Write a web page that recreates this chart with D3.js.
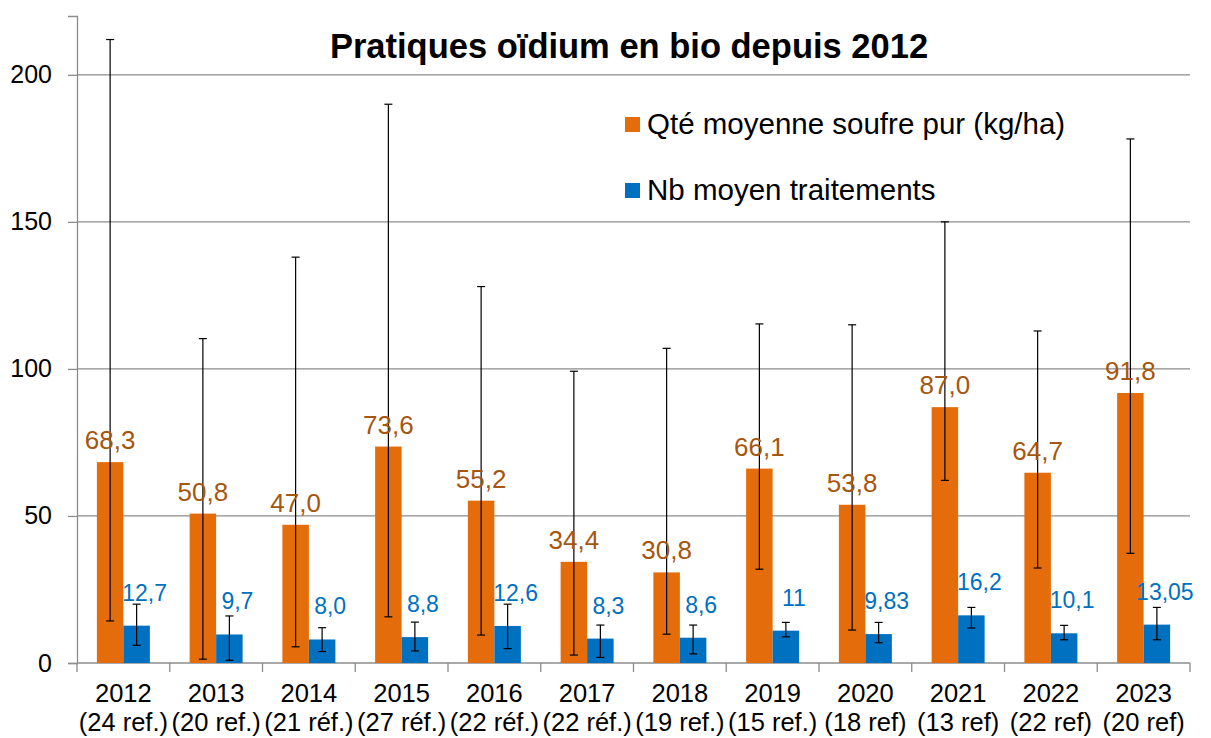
<!DOCTYPE html>
<html>
<head>
<meta charset="utf-8">
<script src="https://cdn.jsdelivr.net/npm/d3@7"></script>
<style>
  body { margin: 0; background: #fff; }
  svg text { font-family: "Liberation Sans", Arial, sans-serif; }
</style>
</head>
<body>
<div id="chart"></div>
<script>
// Data
const years = ['2012', '2013', '2014', '2015', '2016', '2017', '2018', '2019', '2020', '2021', '2022', '2023'];
const refs = ['(24 ref.)', '(20 ref.)', '(21 réf.)', '(27 réf.)', '(22 réf.)', '(22 réf.)', '(19 ref.)', '(15 ref.)', '(18 ref)', '(13 ref)', '(22 ref)', '(20 ref)'];

const soufre = [68.3, 50.8, 47.0, 73.6, 55.2, 34.4, 30.8, 66.1, 53.8, 87.0, 64.7, 91.8];
const soufreLabels = ['68,3', '50,8', '47,0', '73,6', '55,2', '34,4', '30,8', '66,1', '53,8', '87,0', '64,7', '91,8'];
const soufreLow = [14.3, 1.3, 5.5, 15.7, 9.5, 2.7, 9.8, 31.9, 11.2, 62.1, 32.3, 37.3];
const soufreHigh = [212, 110.3, 138, 190, 128, 99.2, 107, 115.3, 115, 150, 112.9, 178.2];

const traitements = [12.7, 9.7, 8.0, 8.8, 12.6, 8.3, 8.6, 11, 9.83, 16.2, 10.1, 13.05];
const traitLabels = ['12,7', '9,7', '8,0', '8,8', '12,6', '8,3', '8,6', '11', '9,83', '16,2', '10,1', '13,05'];
const traitLow = [6.0, 0.9, 3.9, 4.1, 4.9, 1.9, 3.1, 8.9, 6.9, 11.9, 7.9, 7.9];
const traitHigh = [20, 16, 12, 13.9, 20, 12.9, 12.9, 13.8, 13.8, 18.9, 12.8, 18.9];

const yTicks = [0, 50, 100, 150, 200];
const seriesNames = ['Qté moyenne soufre pur (kg/ha)', 'Nb moyen traitements'];

const width = 1211, height = 738;
const orange = '#E46C0A', blue = '#0070C0';
const orangeText = '#A5560F';
const gridColor = '#8C8C8C';

const svg = d3.select('#chart')
              .append('svg')
              .attr('width', width)
              .attr('height', height);

// scales
const x = d3.scaleBand().domain(years).range([77, 1190]).padding(0);
const sub = d3.scaleBand().domain(['q', 'n']).range([0, x.bandwidth()]).paddingInner(0).paddingOuter(0.75);
const y = d3.scaleLinear().domain([0, 220]).range([663, 16]);

// gridlines + y axis
const yAxis = d3.axisLeft(y).tickValues(yTicks).tickSize(9).tickPadding(16).tickFormat(d3.format('d'));
const gy = svg.append('g').attr('transform', 'translate(77,0)').call(yAxis);
gy.select('.domain').attr('stroke', gridColor).attr('stroke-width', 1.3);
gy.selectAll('.tick line').attr('stroke', gridColor).attr('stroke-width', 1.3);
gy.selectAll('.tick text').attr('font-size', 25).attr('fill', '#000')
  .attr('font-family', '"Liberation Sans", Arial, sans-serif');

svg.append('g')
   .selectAll('line')
   .data(yTicks.filter(d => d > 0))
   .enter()
   .append('line')
   .attr('x1', 77).attr('x2', 1190)
   .attr('y1', d => y(d)).attr('y2', d => y(d))
   .attr('stroke', gridColor).attr('stroke-width', 1.3);

// x axis with ticks between categories
svg.append('line')
   .attr('x1', 77).attr('x2', 1190)
   .attr('y1', y(0)).attr('y2', y(0))
   .attr('stroke', gridColor).attr('stroke-width', 1.3);

const boundaries = years.map(d => x(d)).concat([x(years[years.length - 1]) + x.bandwidth()]);
svg.append('g')
   .selectAll('line')
   .data(boundaries)
   .enter()
   .append('line')
   .attr('x1', d => d).attr('x2', d => d)
   .attr('y1', y(0)).attr('y2', y(0) + 9)
   .attr('stroke', gridColor).attr('stroke-width', 1.3);

const xLabels = svg.append('g')
   .selectAll('text')
   .data(years)
   .enter()
   .append('text')
   .attr('text-anchor', 'middle')
   .attr('font-size', 25.5)
   .attr('fill', '#000');

xLabels.append('tspan')
   .attr('x', d => x(d) + x.bandwidth() / 2)
   .attr('y', 702)
   .text(d => d);

xLabels.append('tspan')
   .attr('x', d => x(d) + x.bandwidth() / 2)
   .attr('y', 731)
   .text((d, i) => refs[i]);

// bars
const rows = years.map((yr, i) => ({
  year: yr,
  q: soufre[i], qLab: soufreLabels[i], qLo: soufreLow[i], qHi: soufreHigh[i],
  n: traitements[i], nLab: traitLabels[i], nLo: traitLow[i], nHi: traitHigh[i]
}));

const groups = svg.append('g')
   .selectAll('g')
   .data(rows)
   .enter()
   .append('g')
   .attr('transform', d => `translate(${x(d.year)},0)`);

groups.append('rect')
   .attr('x', sub('q'))
   .attr('width', sub.bandwidth())
   .attr('y', d => y(d.q))
   .attr('height', d => y(0) - y(d.q))
   .attr('fill', orange);

groups.append('rect')
   .attr('x', sub('n'))
   .attr('width', sub.bandwidth())
   .attr('y', d => y(d.n))
   .attr('height', d => y(0) - y(d.n))
   .attr('fill', blue);

// error bars
function errorBar(sel, key, lo, hi) {
  const cx = sub(key) + sub.bandwidth() / 2;
  sel.append('line')
     .attr('x1', cx).attr('x2', cx)
     .attr('y1', d => y(d[lo])).attr('y2', d => y(d[hi]))
     .attr('stroke', '#000').attr('stroke-width', 1.2);
  [lo, hi].forEach(k => {
    sel.append('line')
       .attr('x1', cx - 4).attr('x2', cx + 4)
       .attr('y1', d => y(d[k])).attr('y2', d => y(d[k]))
       .attr('stroke', '#000').attr('stroke-width', 1.2);
  });
}
errorBar(groups, 'q', 'qLo', 'qHi');
errorBar(groups, 'n', 'nLo', 'nHi');

// value labels
groups.append('text')
   .attr('x', sub('q') + sub.bandwidth() / 2)
   .attr('y', d => y(d.q) - 13)
   .attr('text-anchor', 'middle')
   .attr('font-size', 26)
   .attr('fill', orangeText)
   .text(d => d.qLab);

groups.append('text')
   .attr('x', sub('n') + sub.bandwidth() / 2 + 8)
   .attr('y', d => y(d.n) - 25)
   .attr('text-anchor', 'middle')
   .attr('font-size', 23)
   .attr('fill', blue)
   .text(d => d.nLab);

// title
svg.append('text')
   .attr('x', 629)
   .attr('y', 58)
   .attr('text-anchor', 'middle')
   .attr('font-family', 'Lato, "Open Sans", sans-serif')
   .attr('font-weight', 'bold')
   .attr('font-size', 34.5)
   .attr('fill', '#000')
   .text('Pratiques oïdium en bio depuis 2012');

// legend
const legend = svg.append('g')
   .selectAll('g')
   .data(seriesNames)
   .enter()
   .append('g')
   .attr('transform', (d, i) => `translate(625, ${117 + i * 66})`);

legend.append('rect')
   .attr('width', 15).attr('height', 15)
   .attr('fill', (d, i) => i === 0 ? orange : blue);

legend.append('text')
   .attr('x', 22)
   .attr('y', 17)
   .attr('font-size', 29.5)
   .attr('fill', '#000')
   .text(d => d);
</script>
</body>
</html>
